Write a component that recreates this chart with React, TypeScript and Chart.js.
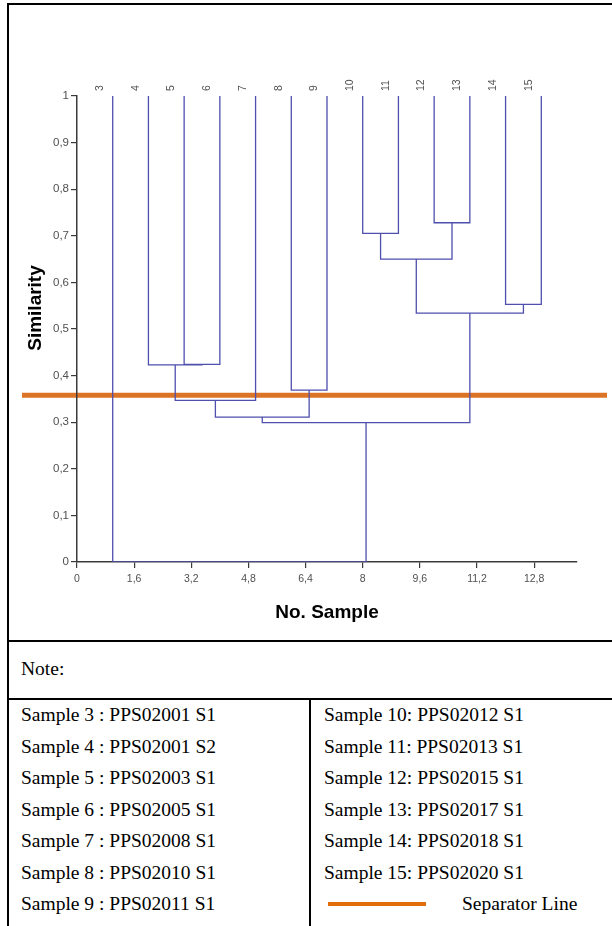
import React, { useEffect, useRef } from 'react';
import { Chart, registerables } from 'chart.js';

Chart.register(...registerables);

// ---------- data ----------
const leafLabels = ['3', '4', '5', '6', '7', '8', '9', '10', '11', '12', '13', '14', '15'];
const leafPositions = [1, 2, 3, 4, 5, 6, 7, 8, 9, 10, 11, 12, 13];
const leafHeight = 1;
// clusters: leaves are 0..12, each merge creates the next id (13, 14, ...)
const mergeLeft = [2, 1, 14, 5, 15, 7, 9, 18, 11, 20, 17, 0];
const mergeRight = [3, 13, 4, 6, 16, 8, 10, 19, 12, 21, 22, 23];
const mergeHeight = [0.424, 0.423, 0.347, 0.369, 0.311, 0.705, 0.728, 0.65, 0.553, 0.534, 0.299, 0];
const separatorValue = 0.358;

const xTickValues = [0, 1.6, 3.2, 4.8, 6.4, 8, 9.6, 11.2, 12.8];
const xTickLabels = ['0', '1,6', '3,2', '4,8', '6,4', '8', '9,6', '11,2', '12,8'];
const yTickValues = [0, 0.1, 0.2, 0.3, 0.4, 0.5, 0.6, 0.7, 0.8, 0.9, 1];
const yTickLabels = ['0', '0,1', '0,2', '0,3', '0,4', '0,5', '0,6', '0,7', '0,8', '0,9', '1'];
const xMin = 0;
const xMax = 14;

const noteLeft = [
  'Sample 3 : PPS02001 S1',
  'Sample 4 : PPS02001 S2',
  'Sample 5 : PPS02003 S1',
  'Sample 6 : PPS02005 S1',
  'Sample 7 : PPS02008 S1',
  'Sample 8 : PPS02010 S1',
  'Sample 9 : PPS02011 S1',
];
const noteRight = [
  'Sample 10: PPS02012 S1',
  'Sample 11: PPS02013 S1',
  'Sample 12: PPS02015 S1',
  'Sample 13: PPS02017 S1',
  'Sample 14: PPS02018 S1',
  'Sample 15: PPS02020 S1',
];

// ---------- style ----------
const LINK_COLOR = '#4f4fae';
const SEP_COLOR = '#dc7428';
const LEGEND_COLOR = '#e36c0a';
const AXIS_COLOR = '#3a3a3a';
const TICK_COLOR = '#505050';
const SANS = "Arial, 'Liberation Sans', Helvetica, sans-serif";
const SERIF = "'Times New Roman', 'Liberation Serif', serif";

function buildLinks() {
  const xs: number[] = [...leafPositions];
  const hs: number[] = leafPositions.map(() => leafHeight);
  const links: { x: number; y: number }[][] = [];
  for (let i = 0; i < mergeHeight.length; i++) {
    const l = mergeLeft[i];
    const r = mergeRight[i];
    const h = mergeHeight[i];
    links.push([
      { x: xs[l], y: hs[l] },
      { x: xs[l], y: h },
      { x: xs[r], y: h },
      { x: xs[r], y: hs[r] },
    ]);
    xs.push((xs[l] + xs[r]) / 2);
    hs.push(h);
  }
  return links;
}

const overlayPlugin = {
  id: 'overlay',
  beforeDraw(chart: any) {
    const { ctx, chartArea, scales } = chart;
    const y = scales.y.getPixelForValue(separatorValue);
    ctx.save();
    ctx.strokeStyle = SEP_COLOR;
    ctx.lineWidth = 5;
    ctx.beginPath();
    ctx.moveTo(chartArea.left - 55, y);
    ctx.lineTo(chart.width - 5, y);
    ctx.stroke();
    ctx.restore();
  },
  afterDraw(chart: any) {
    const { ctx, chartArea } = chart;
    ctx.save();
    ctx.translate(chartArea.left - 41, (chartArea.top + chartArea.bottom) / 2 - 21);
    ctx.rotate(-Math.PI / 2);
    ctx.font = `bold 19px ${SANS}`;
    ctx.fillStyle = '#000';
    ctx.textAlign = 'center';
    ctx.textBaseline = 'middle';
    ctx.fillText('Similarity', 0, 0);
    ctx.restore();
  },
};

function Dendrogram() {
  const ref = useRef<HTMLCanvasElement>(null);
  useEffect(() => {
    if (!ref.current) return;
    const links = buildLinks();
    const chart = new Chart(ref.current, {
      type: 'scatter',
      data: {
        datasets: links.map((pts) => ({
          data: pts,
          showLine: true,
          borderColor: LINK_COLOR,
          borderWidth: 1.3,
          pointRadius: 0,
          pointHoverRadius: 0,
          fill: false,
          tension: 0,
        })),
      },
      options: {
        animation: false,
        responsive: false,
        maintainAspectRatio: false,
        events: [],
        layout: { padding: { left: 8, right: 35, top: 0, bottom: 0 } },
        plugins: { legend: { display: false }, tooltip: { enabled: false } },
        scales: {
          x: {
            type: 'linear',
            position: 'bottom',
            min: xMin,
            max: xMax,
            z: 1,
            afterBuildTicks: (s: any) => {
              s.ticks = xTickValues.map((v) => ({ value: v }));
            },
            afterFit: (s: any) => {
              s.height = 78;
            },
            ticks: {
              autoSkip: false,
              maxRotation: 0,
              minRotation: 0,
              padding: 5,
              color: TICK_COLOR,
              font: { family: SANS, size: 10.5 },
              callback: (_v: any, i: number) => xTickLabels[i],
            },
            grid: { drawOnChartArea: false, drawTicks: true, tickLength: 6, color: AXIS_COLOR, lineWidth: 1.2 },
            border: { display: true, color: AXIS_COLOR, width: 1.5 },
            title: {
              display: true,
              text: 'No. Sample',
              color: '#000',
              font: { family: SANS, size: 19, weight: 'bold' },
              padding: { top: 0, bottom: 16 },
            },
          },
          xTop: {
            type: 'linear',
            position: 'top',
            min: xMin,
            max: xMax,
            afterBuildTicks: (s: any) => {
              s.ticks = leafPositions.map((v) => ({ value: v }));
            },
            afterFit: (s: any) => {
              s.height = 91;
            },
            ticks: {
              autoSkip: false,
              maxRotation: 90,
              minRotation: 90,
              padding: 5,
              color: TICK_COLOR,
              font: { family: SANS, size: 10.5 },
              callback: (_v: any, i: number) => leafLabels[i],
            },
            grid: { display: false, drawTicks: false },
            border: { display: false },
          },
          y: {
            type: 'linear',
            position: 'left',
            min: 0,
            max: 1,
            afterBuildTicks: (s: any) => {
              s.ticks = yTickValues.map((v) => ({ value: v }));
            },
            afterFit: (s: any) => {
              s.width = 60;
            },
            ticks: {
              autoSkip: false,
              padding: 2,
              color: TICK_COLOR,
              font: { family: SANS, size: 11.5 },
              callback: (_v: any, i: number) => yTickLabels[i],
            },
            grid: { drawOnChartArea: false, drawTicks: true, tickLength: 6, color: AXIS_COLOR, lineWidth: 1.2 },
            border: { display: true, color: AXIS_COLOR, width: 1.5 },
          },
        },
      } as any,
      plugins: [overlayPlugin],
    });
    return () => chart.destroy();
  }, []);
  return <canvas ref={ref} width={603} height={635} style={{ width: 603, height: 635, display: 'block' }} />;
}

const line = (left: number, top: number, width: number, height: number) => (
  <div style={{ position: 'absolute', left, top, width, height, background: '#000' }} />
);

export default function App() {
  const rowTop = 699;
  const rowH = 31.5;
  const textStyle: React.CSSProperties = {
    position: 'absolute',
    fontFamily: SERIF,
    fontSize: 19.5,
    lineHeight: `${rowH}px`,
    color: '#000',
    whiteSpace: 'nowrap',
  };
  return (
    <div style={{ position: 'absolute', left: 0, top: 0, width: 612, height: 926, background: '#fff', overflow: 'hidden' }}>
      <div style={{ position: 'absolute', left: 9, top: 5 }}>
        <Dendrogram />
      </div>
      {line(7, 3, 605, 2)}
      {line(7, 3, 2, 923)}
      {line(7, 640, 605, 2)}
      {line(7, 698, 605, 2)}
      {line(309, 698, 2, 228)}
      <div style={{ ...textStyle, left: 21, top: 653 }}>Note:</div>
      {noteLeft.map((t, i) => (
        <div key={'l' + i} style={{ ...textStyle, left: 21, top: rowTop + i * rowH }}>{t}</div>
      ))}
      {noteRight.map((t, i) => (
        <div key={'r' + i} style={{ ...textStyle, left: 324, top: rowTop + i * rowH }}>{t}</div>
      ))}
      <div style={{ position: 'absolute', left: 328, top: rowTop + 6 * rowH + rowH / 2 - 2, width: 98, height: 4, background: LEGEND_COLOR }} />
      <div style={{ ...textStyle, left: 462, top: rowTop + 6 * rowH }}>Separator Line</div>
    </div>
  );
}
